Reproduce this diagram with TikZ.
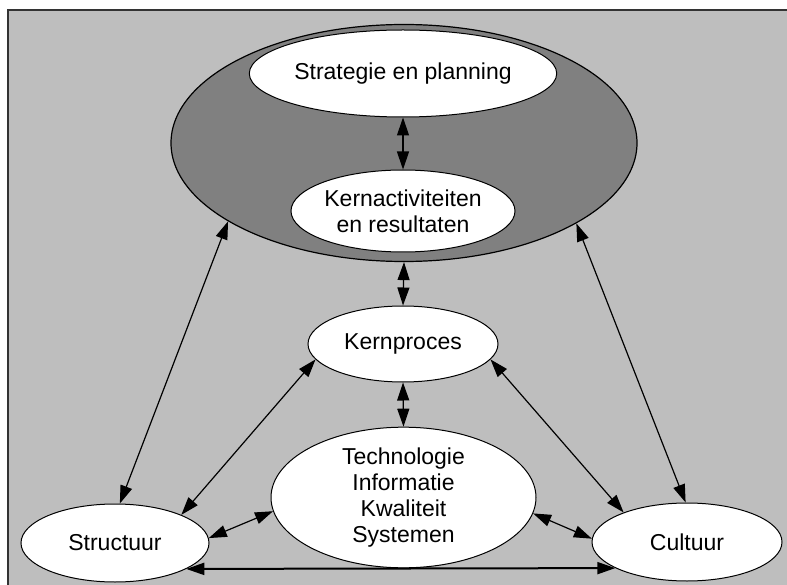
\documentclass[tikz,border=0pt]{standalone}
\usepackage{fontspec}
\setmainfont{Liberation Sans}
\usetikzlibrary{shapes.geometric,arrows.meta}
\definecolor{panel}{HTML}{BEBEBE}
\definecolor{core}{HTML}{808080}
\definecolor{frame}{HTML}{333333}
\tikzset{headtip/.tip={Triangle[length=18pt,width=12pt]}}
\begin{document}
\begin{tikzpicture}[x=1pt,y=-1pt,
  bubble/.style={ellipse, draw=black, line width=1pt, fill=white,
    inner sep=0pt, align=center, font=\fontsize{23}{26}\selectfont},
  link/.style={headtip-headtip, line width=1.2pt},
]
\useasboundingbox (0,0) rectangle (787,585);
\fill[white] (0,0) rectangle (787,585);
% panel with frame
\draw[frame, line width=2pt, fill=panel] (8,10) rectangle (800,600);

% management circle
\node[ellipse, draw=black, fill=core, line width=1.2pt, inner sep=0pt,
  minimum width=466pt, minimum height=237pt] (core) at (404,143) {};
\node[bubble, minimum width=247pt, minimum height=87pt] (strat) at (403,73.5) {Strategie en planning};
\node[bubble, minimum width=224pt, minimum height=82pt] (kact) at (403,211) {Kernactiviteiten\\en resultaten};

% lower nodes
\node[bubble, minimum width=190pt, minimum height=76pt] (kp) at (403,344) {Kernproces};
\node[bubble, minimum width=265pt, minimum height=127pt] (tech) at (403.5,497.5) {Technologie\\Informatie\\Kwaliteit\\Systemen};
\node[bubble, minimum width=188pt, minimum height=78pt] (struct) at (115,543) {Structuur};
\node[bubble, minimum width=190pt, minimum height=78pt] (cult) at (687,542) {Cultuur};

% connectors
\draw[link] (strat.south) -- (kact.north);
\draw[link] (core.south) -- (kp.north);
\draw[link] (kp.south) -- (tech.north);
\draw[link] (core.204.6) -- (struct.83.4);
\draw[link] (core.335.9) -- (cult.92.9);
\draw[link] (kp.190) -- (struct.23);
\draw[link] (kp.350) -- (cult.155.2);
\draw[link] (tech.186.7) -- (struct.3);
\draw[link] (tech.353.2) -- (cult.178.2);
\draw[link, line width=2pt] (struct.340.4) -- (cult.200.8);
\end{tikzpicture}
\end{document}
